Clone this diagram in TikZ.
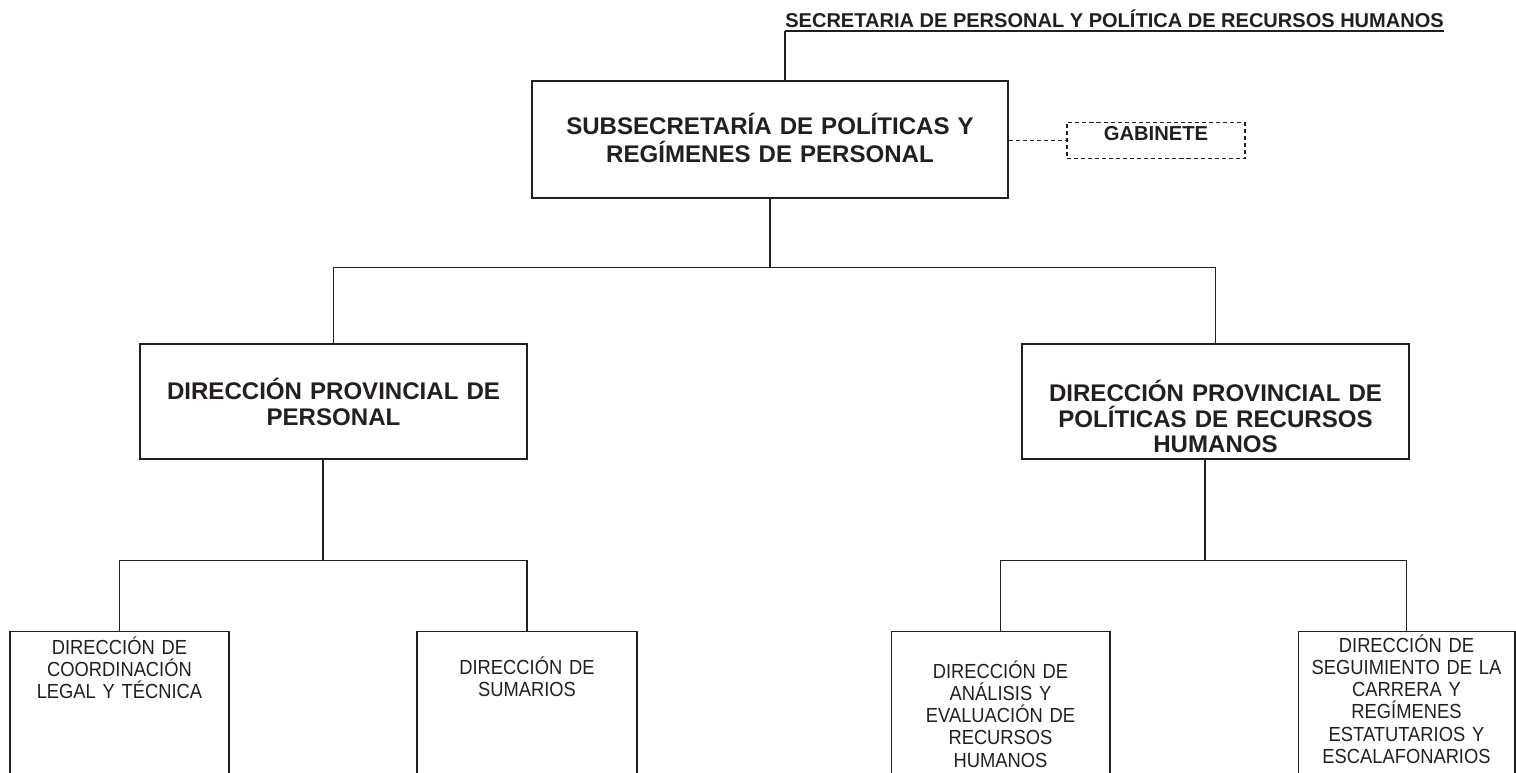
\documentclass[tikz,border=0pt]{standalone}
\usepackage{fontspec}
\setmainfont{Liberation Sans}
\newfontfamily\narrowfont{Liberation Sans}[FakeStretch=0.9]
\usepackage{tikz}
\usetikzlibrary{positioning}
\definecolor{ink}{RGB}{35,31,32}

\begin{document}
\begin{tikzpicture}[x=0.02cm,y=-0.02cm,color=ink,
	head/.style={draw, line width=1.4pt, align=center, inner sep=0pt, anchor=north,
		font=\bfseries\fontsize{13.7}{16}\selectfont},
	prov/.style={head, font=\bfseries\fontsize{13.7}{14.5}\selectfont,
		minimum width=7.74cm, text width=7.5cm},
	unit/.style={draw, line width=0.6pt, align=center, inner sep=0pt, anchor=north,
		font=\narrowfont\fontsize{11.6}{12.6}\selectfont},
	link/.style={line width=0.6pt}]
	\useasboundingbox (0,0) rectangle (1516,773);
	\clip (0,0) rectangle (1516,773);

	\node[anchor=south west, inner sep=0pt, text depth=0.06cm,
		font=\bfseries\fontsize{11.4}{13}\selectfont] (sec) at (785,31)
		{SECRETARIA DE PERSONAL Y POLÍTICA DE RECURSOS HUMANOS};
	\node[head, minimum width=9.52cm, text width=9.3cm, text height=1.07cm, text depth=1.27cm]
		(sub) at (770,80) {SUBSECRETARÍA DE POLÍTICAS Y\\REGÍMENES DE PERSONAL};
	\node[draw, dashed, dash pattern=on 2.3pt off 1.7pt, line width=0.6pt, anchor=north,
		inner sep=0pt, minimum width=3.56cm, text height=0.36cm, text depth=0.36cm,
		font=\bfseries\fontsize{11.5}{13}\selectfont] (gab) at (1156,122) {GABINETE};

	\node[prov, text height=1.11cm, text depth=1.19cm] (dpp) at (333.5,343)
		{DIRECCIÓN PROVINCIAL DE\\PERSONAL};
	\node[prov, text height=1.15cm, text depth=1.15cm] (dprh) at (1215.5,343)
		{DIRECCIÓN PROVINCIAL DE\\POLÍTICAS DE RECURSOS\\HUMANOS};

	\node[unit, minimum width=4.38cm, text width=4.2cm, text height=0.46cm, text depth=2.92cm]
		(coord) at (119.5,631) {DIRECCIÓN DE\\COORDINACIÓN\\LEGAL Y TÉCNICA};
	\node[unit, minimum width=4.4cm, text width=4.2cm, text height=0.86cm, text depth=2.52cm]
		(sum) at (527,631) {DIRECCIÓN DE\\SUMARIOS};
	\node[unit, minimum width=4.38cm, text width=4.2cm, text height=0.94cm, text depth=2.44cm]
		(anal) at (1000.5,631) {DIRECCIÓN DE\\ANÁLISIS Y\\EVALUACIÓN DE\\RECURSOS\\HUMANOS};
	\node[unit, minimum width=4.34cm, text width=4.2cm, text height=0.42cm, text depth=2.96cm]
		(seg) at (1406.5,631) {DIRECCIÓN DE\\SEGUIMIENTO DE LA\\CARRERA Y\\REGÍMENES\\ESTATUTARIOS Y\\ESCALAFONARIOS};

	\draw[link] (sec.south west) -- (sec.south east);
	\draw[link] (sec.south west) -- (sec.south west |- sub.north);
	\draw[link, dash pattern=on 2.3pt off 1.7pt] (sub.east |- gab.west) -- (gab.west);

	\draw[link] (sub.south) -- ++(0,68) coordinate (top);
	\draw[link] (dpp.north) |- (top) -| (dprh.north);

	\draw[link] ([xshift=-0.21cm]dpp.south) -- ++(0,100) coordinate (jl);
	\draw[link] (coord.north) |- (jl) -| (sum.north);
	\draw[link] ([xshift=-0.21cm]dprh.south) -- ++(0,100) coordinate (jr);
	\draw[link] (anal.north) |- (jr) -| (seg.north);
\end{tikzpicture}
\end{document}
